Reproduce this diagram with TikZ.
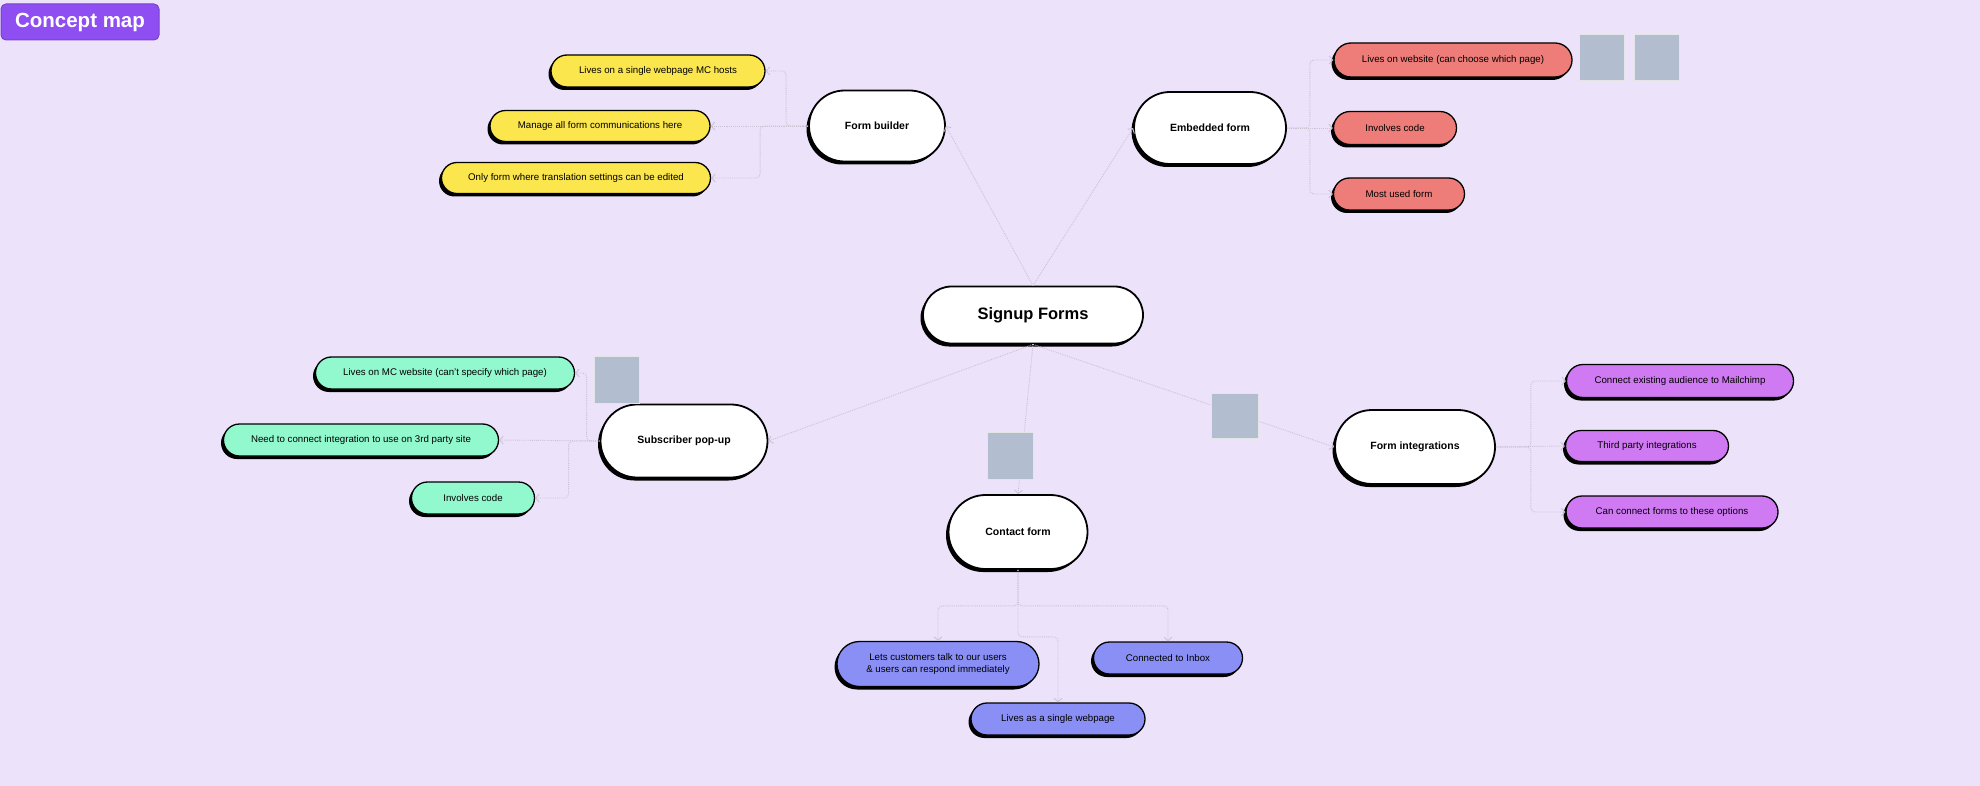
\documentclass[tikz,border=0pt]{standalone}
\usepackage{fontspec}
\setmainfont{Liberation Sans}
\usetikzlibrary{arrows.meta,shapes.misc,shadows}
\definecolor{bg}{HTML}{ECE3FB}
\definecolor{yel}{HTML}{FBE64E}
\definecolor{salmon}{HTML}{EE7C78}
\definecolor{mint}{HTML}{92F9CF}
\definecolor{orchid}{HTML}{CF79F2}
\definecolor{periwinkle}{HTML}{8A8FF6}
\definecolor{sticky}{HTML}{B2BDCF}
\definecolor{titlebg}{HTML}{8E4EF1}
\definecolor{linkgray}{HTML}{CAC3D4}

\begin{document}
\begin{tikzpicture}[x=1pt,y=-1pt,
  pill/.style={rounded rectangle,draw=black,line width=1.3pt,inner sep=0pt,minimum height=32pt,
    font=\fontsize{9.7}{12}\selectfont,align=center,
    drop shadow={shadow xshift=-2.5pt,shadow yshift=-3pt,fill=black,opacity=1}},
  topic/.style={pill,fill=white,line width=1.8pt,minimum height=72pt,font=\fontsize{10.5}{12}\selectfont\bfseries},
  note/.style={draw=black!10,line width=0.4pt,fill=sticky,minimum width=45pt,minimum height=46pt,inner sep=0pt},
  link/.style={draw=linkgray,line width=0.9pt,densely dotted,-{Straight Barb[length=3.5pt,width=8pt]}},
  branch/.style={link,rounded corners=4pt}]
  \fill[bg] (0,0) rectangle (1980,786);
  \useasboundingbox (0,0) rectangle (1980,786);

  \node[rounded corners=5pt,fill=titlebg,draw=titlebg!85!black,line width=1pt,minimum width=158pt,minimum height=36pt,
    text=white,font=\fontsize{20.5}{24}\selectfont\bfseries] (title) at (80,22) {Concept map};

  \node[topic,minimum width=220pt,minimum height=57pt,font=\fontsize{16.5}{19}\selectfont\bfseries] (signup) at (1033,315) {Signup Forms};

  \node[topic,minimum width=136pt,minimum height=71pt] (builder) at (877,126) {Form builder};
  \node[pill,fill=yel,minimum width=214pt] (b-host) at (658,71) {Lives on a single webpage MC hosts};
  \node[pill,fill=yel,minimum width=220pt,minimum height=31pt] (b-comm) at (600,126) {Manage all form communications here};
  \node[pill,fill=yel,minimum width=269pt,minimum height=31pt] (b-trans) at (576,178) {Only form where translation settings can be edited};

  \node[topic,minimum width=152pt] (embedded) at (1210,128) {Embedded form};
  \node[pill,fill=salmon,minimum width=238pt,minimum height=34pt] (e-site) at (1453,60) {Lives on website (can choose which page)};
  \node[pill,fill=salmon,minimum width=123pt,minimum height=33pt] (e-code) at (1395,128) {Involves code};
  \node[pill,fill=salmon,minimum width=131pt] (e-used) at (1399,194) {Most used form};
  \node[note] (note-e1) at (1602,57) {};
  \node[note] (note-e2) at (1657,57) {};

  \node[topic,minimum width=167pt,minimum height=73pt] (popup) at (684,441) {Subscriber pop-up};
  \node[pill,fill=mint,minimum width=259pt] (p-site) at (445,373) {Lives on MC website (can't specify which page)};
  \node[pill,fill=mint,minimum width=275pt] (p-third) at (361,440) {Need to connect integration to use on 3rd party site};
  \node[pill,fill=mint,minimum width=123pt] (p-code) at (473,498) {Involves code};
  \node[note,minimum height=47pt] (note-p) at (617,380) {};

  \node[topic,minimum width=139pt,minimum height=74pt] (contact) at (1018,532) {Contact form};
  \node[pill,fill=periwinkle,minimum width=202pt,minimum height=45pt] (c-talk) at (938,664) {Lets customers talk to our users\\\& users can respond immediately};
  \node[pill,fill=periwinkle,minimum width=149pt] (c-inbox) at (1168,658) {Connected to Inbox};
  \node[pill,fill=periwinkle,minimum width=174pt] (c-page) at (1058,719) {Lives as a single webpage};

  \node[topic,minimum width=160pt,minimum height=74pt] (integr) at (1415,447) {Form integrations};
  \node[pill,fill=orchid,minimum width=227pt,minimum height=33pt] (i-mc) at (1680,381) {Connect existing audience to Mailchimp};
  \node[pill,fill=orchid,minimum width=163pt,minimum height=31pt] (i-third) at (1647,446) {Third party integrations};
  \node[pill,fill=orchid,minimum width=212pt] (i-forms) at (1672,512) {Can connect forms to these options};

  \draw[link] (signup.north) -- (builder.east);
  \draw[link] (signup.north) -- (embedded.west);
  \draw[link] (signup.south) -- (popup.east);
  \draw[link] (signup.south) -- (contact.north);
  \draw[link] (signup.south) -- (integr.west);
  \node[note,minimum width=46pt,minimum height=47pt] (note-c) at (1010,456) {};
  \node[note,minimum width=47pt,minimum height=45pt] (note-i) at (1235,416) {};

  \draw[branch] (builder.west) -- ++(-22,0) |- (b-host.east);
  \draw[branch] (builder.west) -- (b-comm.east);
  \draw[branch] (builder.west) -- ++(-48,0) |- (b-trans.east);

  \draw[branch] (embedded.east) -- ++(23,0) |- (e-site.west);
  \draw[branch] (embedded.east) -- (e-code.west);
  \draw[branch] (embedded.east) -- ++(23,0) |- (e-used.west);

  \draw[branch] (popup.west) -- ++(-13,0) |- (p-site.east);
  \draw[branch] (popup.west) -- (p-third.east);
  \draw[branch] (popup.west) -- ++(-31,0) |- (p-code.east);

  \draw[branch] (contact.south) -- ++(0,36) -| (c-talk.north);
  \draw[branch] (contact.south) -- ++(0,36) -| (c-inbox.north);
  \draw[branch] (contact.south) -- ++(0,67) -| (c-page.north);

  \draw[branch] (integr.east) -- ++(35,0) |- (i-mc.west);
  \draw[branch] (integr.east) -- (i-third.west);
  \draw[branch] (integr.east) -- ++(35,0) |- (i-forms.west);
\end{tikzpicture}
\end{document}
